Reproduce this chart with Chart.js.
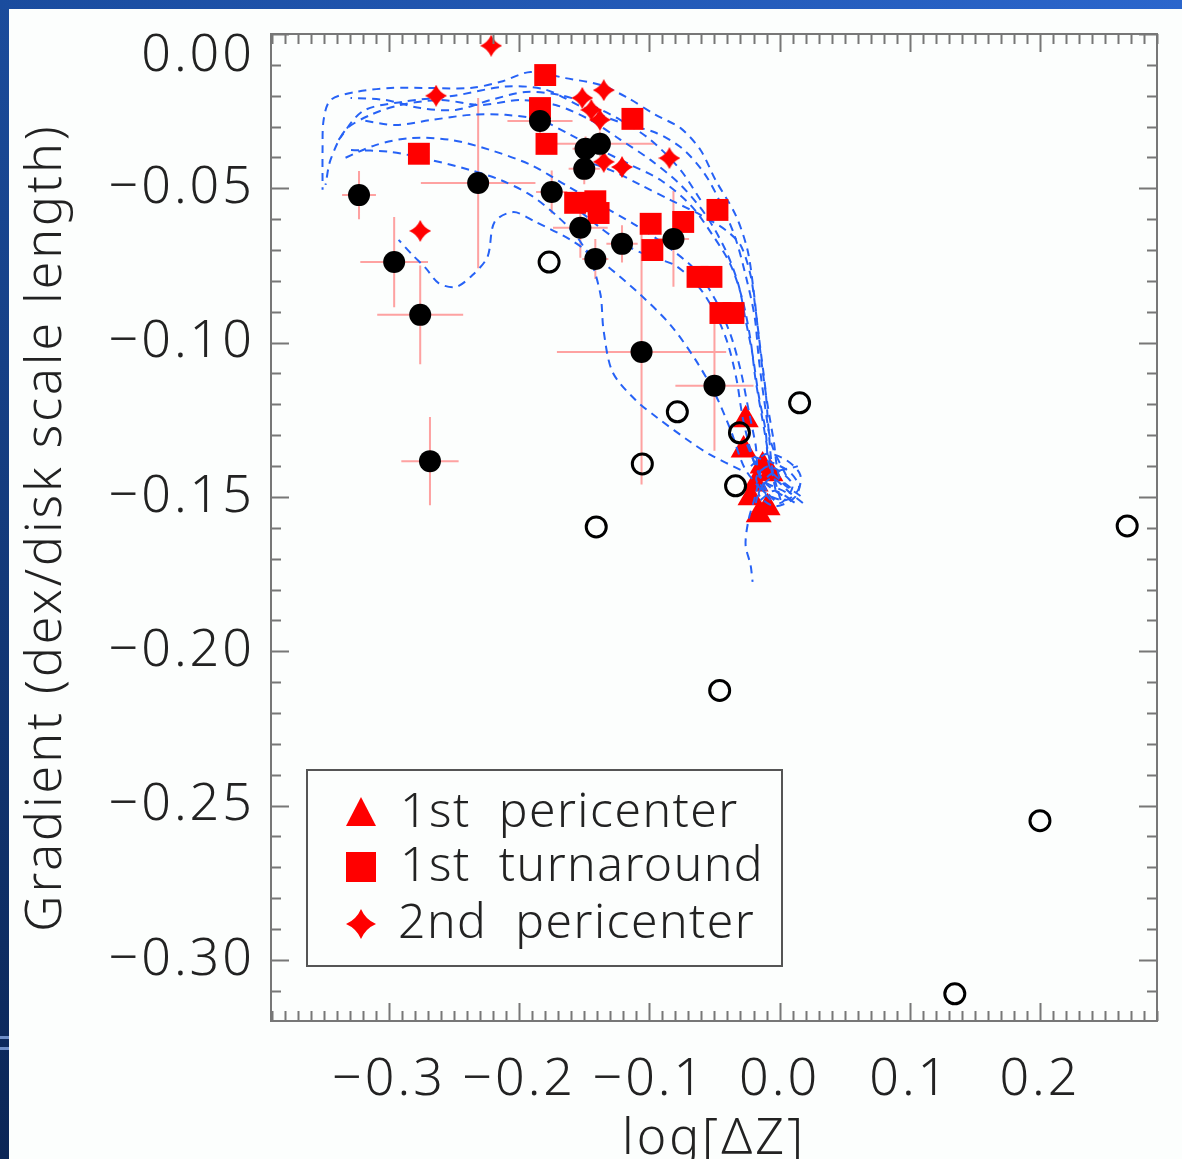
<!DOCTYPE html>
<html>
<head>
<meta charset="utf-8">
<script src="https://cdn.jsdelivr.net/npm/chart.js@4/dist/chart.umd.min.js"></script>
<style>
  body { margin: 0; width: 1182px; height: 1159px; overflow: hidden; position: relative;
         background: linear-gradient(to bottom, #1b4c9c, #0b2656); }
  #topbar { position: absolute; left: 0; top: 0; width: 1182px; height: 9px;
            background: linear-gradient(to right, #1a4c9e, #2b66cc); }
  #panel { position: absolute; left: 9px; top: 9px; width: 1173px; height: 1150px; background: #fcfefd; }
  .deco { position: absolute; left: 0; width: 9px; height: 3px; background: #6f8fc8; }
  #wrap { position: absolute; left: 0; top: -28px; width: 1182px; height: 1187px; }
</style>
</head>
<body>
<div id="topbar"></div>
<div id="panel"></div>
<div class="deco" style="top:1036px"></div>
<div class="deco" style="top:1047px"></div>
<div id="wrap"><canvas id="grafico" width="1182" height="1187"></canvas></div>
<script>
// eixos
const xTickValues = [-0.3, -0.2, -0.1, 0.0, 0.1, 0.2];
const xTickLabels = ['\u22120.3', '\u22120.2', '\u22120.1', '0.0', '0.1', '0.2'];
const yTickValues = [0.00, -0.05, -0.10, -0.15, -0.20, -0.25, -0.30];
const yTickLabels = ['0.00', '\u22120.05', '\u22120.10', '\u22120.15', '\u22120.20', '\u22120.25', '\u22120.30'];

// pontos pretos cheios com barras de erro
const blackX = [-0.323, -0.296, -0.276, -0.2685, -0.2315, -0.184, -0.175, -0.149, -0.138, -0.150, -0.153, -0.1415, -0.121, -0.0815, -0.106, -0.050];
const blackY = [-0.0522, -0.0739, -0.0910, -0.1384, -0.0483, -0.0282, -0.0512, -0.0372, -0.0356, -0.0437, -0.0628, -0.0729, -0.0680, -0.0664, -0.1030, -0.1140];
const blackXErr = [0.013, 0.026, 0.033, 0.022, 0.044, 0.025, 0.012, 0.010, 0.042, 0.012, 0.021, 0.010, 0.012, 0.012, 0.065, 0.030];
const blackYErr = [0.0078, 0.0146, 0.016, 0.0143, 0.0276, 0.004, 0.007, 0.004, 0.004, 0.005, 0.0097, 0.0065, 0.006, 0.0155, 0.043, 0.021];

// circulos abertos
const openX = [-0.177, -0.0785, -0.1054, 0.0154, -0.0308, -0.0338, -0.1408, -0.046, 0.267, 0.200, 0.1346];
const openY = [-0.0739, -0.1224, -0.1393, -0.1195, -0.1292, -0.1464, -0.1597, -0.2127, -0.1594, -0.2549, -0.311];

// 1st turnaround
const sqX = [-0.277, -0.180, -0.184, -0.179, -0.113, -0.157, -0.1415, -0.139, -0.099, -0.0977, -0.074, -0.0477, -0.063, -0.0523, -0.0454, -0.0354];
const sqY = [-0.0388, -0.0133, -0.0240, -0.0356, -0.0275, -0.0547, -0.0542, -0.0580, -0.0615, -0.0700, -0.0609, -0.0570, -0.0787, -0.0787, -0.0904, -0.0904];

// 2nd pericenter
const starX = [-0.2215, -0.2638, -0.276, -0.1515, -0.135, -0.1446, -0.138, -0.135, -0.121, -0.0846];
const starY = [-0.0038, -0.0200, -0.0638, -0.0207, -0.0182, -0.0246, -0.0278, -0.0414, -0.0431, -0.0402];

// 1st pericenter
const triX = [-0.026, -0.0276, -0.013, -0.007, -0.0223, -0.016, -0.0092, -0.0184];
const triY = [-0.125, -0.1348, -0.140, -0.1425, -0.1503, -0.1558, -0.1535, -0.1458];

// trajetorias (tracejado azul)
const trackA = [[0.0161,-0.1497],[0.0008,-0.1445],[-0.0046,-0.1315],[-0.0092,-0.1202],[-0.0131,-0.1088],[-0.0161,-0.0978],[-0.02,-0.0829],[-0.0246,-0.07],[-0.0338,-0.0586],[-0.0492,-0.0473],[-0.0607,-0.0376],[-0.076,-0.0305],[-0.0952,-0.0262],[-0.1167,-0.0207],[-0.1375,-0.0165],[-0.1644,-0.0143],[-0.1912,-0.0123],[-0.2143,-0.0155],[-0.2373,-0.0175],[-0.268,-0.0175],[-0.2988,-0.0175],[-0.3257,-0.0188],[-0.3449,-0.0214],[-0.3502,-0.0279],[-0.351,-0.0376],[-0.351,-0.0505]];
const trackB = [[0.0084,-0.147],[-0.0069,-0.1412],[-0.0108,-0.1283],[-0.0161,-0.1169],[-0.0207,-0.104],[-0.0261,-0.0926],[-0.0315,-0.0813],[-0.0415,-0.07],[-0.0568,-0.0586],[-0.076,-0.0489],[-0.0991,-0.0408],[-0.1221,-0.0343],[-0.1452,-0.0279],[-0.172,-0.023],[-0.1989,-0.0214],[-0.2296,-0.023],[-0.2604,-0.0214],[-0.2911,-0.023],[-0.3141,-0.0262],[-0.3333,-0.0311],[-0.3449,-0.0408],[-0.3487,-0.0489]];
const trackC = [[0.0046,-0.1484],[-0.0146,-0.1438],[-0.0184,-0.1331],[-0.0238,-0.1218],[-0.03,-0.1088],[-0.0376,-0.0975],[-0.0492,-0.0862],[-0.0645,-0.0765],[-0.0876,-0.0684],[-0.1106,-0.0619],[-0.1375,-0.0554],[-0.1644,-0.0489],[-0.1912,-0.0424],[-0.222,-0.0376],[-0.2527,-0.0343],[-0.2834,-0.0337],[-0.3103,-0.036],[-0.3372,-0.0408]];
const trackD = [[-0.0069,-0.151],[-0.0261,-0.1412],[-0.0376,-0.1283],[-0.0492,-0.1169],[-0.0645,-0.1056],[-0.0837,-0.0943],[-0.1068,-0.0845],[-0.1336,-0.0748],[-0.1605,-0.0667],[-0.1874,-0.0609],[-0.2043,-0.0577],[-0.2189,-0.0609],[-0.2243,-0.0722],[-0.2358,-0.0781],[-0.2488,-0.082],[-0.2619,-0.0807],[-0.2719,-0.0758],[-0.2819,-0.0716],[-0.2926,-0.0667]];
const trackE = [[-0.03,-0.1412],[-0.053,-0.1364],[-0.0684,-0.1322],[-0.0937,-0.1244],[-0.1106,-0.1186],[-0.1283,-0.1095],[-0.1352,-0.0959],[-0.1375,-0.0845],[-0.1452,-0.0732],[-0.1567,-0.0651],[-0.172,-0.0586],[-0.1912,-0.0522],[-0.2143,-0.0473],[-0.2373,-0.0441],[-0.268,-0.0408],[-0.2988,-0.0382],[-0.3295,-0.0376]];
const trackF = [[-0.0146,-0.1412],[-0.0184,-0.1493],[-0.0238,-0.1574],[-0.0261,-0.1655],[-0.0223,-0.172],[-0.0207,-0.1775]];
const trackG = [[-0.0031,-0.1477],[-0.0084,-0.1364],[-0.0131,-0.125],[-0.0184,-0.1121],[-0.0223,-0.0991],[-0.0284,-0.0862],[-0.0376,-0.0748],[-0.0515,-0.0651],[-0.0684,-0.0554],[-0.0914,-0.0473],[-0.1144,-0.0424],[-0.1375,-0.0376],[-0.1605,-0.0327],[-0.1836,-0.0279],[-0.2104,-0.0262],[-0.2373,-0.0262],[-0.268,-0.0279],[-0.2949,-0.0295],[-0.3218,-0.0279]];
const trackH = [[-0.0607,-0.0538],[-0.076,-0.0441],[-0.0991,-0.0343],[-0.1221,-0.0279],[-0.1452,-0.023],[-0.1682,-0.0198],[-0.1951,-0.0188],[-0.222,-0.0214],[-0.2488,-0.0246],[-0.2757,-0.024],[-0.3026,-0.0214],[-0.3295,-0.0207]];
const trackI = [[0.0008,-0.151],[-0.0054,-0.1412],[-0.0084,-0.1283],[-0.0108,-0.1153],[-0.0146,-0.1024],[-0.0184,-0.0894],[-0.0223,-0.0781],[-0.03,-0.0684],[-0.0415,-0.0635],[-0.0607,-0.0586],[-0.0837,-0.0538],[-0.1068,-0.0489],[-0.1298,-0.0441],[-0.1528,-0.0408]];
const trackJ = [[-0.02,-0.137],[-0.005,-0.139],[0.008,-0.142],[0.015,-0.147],[0.005,-0.151],[-0.01,-0.149],[-0.018,-0.144],[-0.008,-0.14],[0.01,-0.146],[0.0,-0.152],[-0.015,-0.146]];
const trackK = [[-0.025,-0.133],[-0.012,-0.145],[0.012,-0.152],[-0.004,-0.148],[-0.018,-0.152],[-0.008,-0.143],[0.014,-0.14]];
const trackL = [[0.005,-0.143],[-0.006,-0.133],[-0.012,-0.118],[-0.016,-0.105],[-0.019,-0.092],[-0.025,-0.08],[-0.034,-0.066],[-0.045,-0.055],[-0.058,-0.045],[-0.075,-0.037],[-0.095,-0.032],[-0.12,-0.029],[-0.15,-0.024],[-0.18,-0.018],[-0.21,-0.017],[-0.25,-0.02],[-0.29,-0.022],[-0.32,-0.025],[-0.34,-0.035]];
const trackM = [[-0.01,-0.148],[-0.02,-0.138],[-0.028,-0.125],[-0.033,-0.112],[-0.04,-0.1],[-0.05,-0.09],[-0.062,-0.082],[-0.08,-0.075],[-0.1,-0.072],[-0.12,-0.068],[-0.14,-0.062],[-0.16,-0.055]];
const trackN = [[-0.022,-0.14],[-0.01,-0.136],[0.005,-0.138],[0.016,-0.143],[0.012,-0.15],[-0.004,-0.153],[-0.016,-0.149],[-0.006,-0.144],[0.009,-0.149],[0.018,-0.152]];
const tracks = [trackA, trackB, trackC, trackD, trackE, trackF, trackG, trackH, trackI, trackJ, trackK, trackL, trackM, trackN];

const fonte = "'Noto Sans', 'DejaVu Sans', sans-serif";
const azul = 'rgb(38, 98, 246)';
const vermelho = '#ff0000';

function pontos(xs, ys) {
  return xs.map((x, i) => ({ x: x, y: ys[i] }));
}

function estrela(tam) {
  const c = document.createElement('canvas');
  c.width = tam; c.height = tam;
  const g = c.getContext('2d');
  const r = tam / 2, k = r * 0.3;
  g.fillStyle = vermelho;
  g.beginPath();
  g.moveTo(r, 0);
  g.quadraticCurveTo(r + k, r - k, tam, r);
  g.quadraticCurveTo(r + k, r + k, r, tam);
  g.quadraticCurveTo(r - k, r + k, 0, r);
  g.quadraticCurveTo(r - k, r - k, r, 0);
  g.fill();
  return c;
}

// barras de erro: segmentos separados por null
const erros = [];
blackX.forEach((x, i) => {
  const y = blackY[i];
  erros.push({ x: x - blackXErr[i], y: y }, { x: x + blackXErr[i], y: y }, { x: x, y: null });
  erros.push({ x: x, y: y - blackYErr[i] }, { x: x, y: y + blackYErr[i] }, { x: x, y: null });
});

const datasets = [];
datasets.push({ label: 'open', data: pontos(openX, openY), pointStyle: 'circle', pointRadius: 10,
  backgroundColor: 'rgba(0,0,0,0)', borderColor: '#000', pointBorderWidth: 3 });
datasets.push({ label: 'filled', data: pontos(blackX, blackY), pointStyle: 'circle', pointRadius: 11,
  backgroundColor: '#000', borderColor: '#000', pointBorderWidth: 0 });
datasets.push({ label: '2nd pericenter', data: pontos(starX, starY), pointStyle: estrela(22), pointRadius: 11 });
datasets.push({ label: '1st turnaround', data: pontos(sqX, sqY), pointStyle: 'rect', pointRadius: 15.5,
  backgroundColor: vermelho, borderColor: vermelho, pointBorderWidth: 0 });
tracks.forEach((t, i) => {
  datasets.push({ label: 'track' + i, data: t.map(p => ({ x: p[0], y: p[1] })), showLine: true,
    pointRadius: 0, borderColor: azul, borderWidth: 2, borderDash: [8, 6], tension: 0.3, fill: false });
});
datasets.push({ label: '1st pericenter', data: pontos(triX, triY), pointStyle: 'triangle', pointRadius: 15,
  backgroundColor: vermelho, borderColor: vermelho, pointBorderWidth: 0 });
datasets.push({ label: 'errors', data: erros, showLine: true, spanGaps: false, pointRadius: 0,
  borderColor: 'rgba(255, 70, 70, 0.5)', borderWidth: 2 });

// espacamento das letras (estilo da fonte original)
const espaco = {
  id: 'espaco',
  beforeDraw(chart) { chart.ctx.letterSpacing = '3px'; },
  beforeDatasetsDraw(chart) { chart.ctx.letterSpacing = '0px'; }
};

// moldura e marcas internas
const moldura = {
  id: 'moldura',
  afterDatasetsDraw(chart) {
    const { ctx, chartArea: a, scales: { x, y } } = chart;
    ctx.save();
    ctx.strokeStyle = '#777';
    ctx.lineWidth = 2;
    ctx.strokeRect(a.left, a.top, a.right - a.left, a.bottom - a.top);
    ctx.beginPath();
    for (let i = -39; i <= 29; i++) {
      const px = Math.round(x.getPixelForValue(i / 100)) + 0.5;
      const len = i % 10 === 0 ? 18 : 10;
      ctx.moveTo(px, a.bottom); ctx.lineTo(px, a.bottom - len);
      ctx.moveTo(px, a.top); ctx.lineTo(px, a.top + len);
    }
    for (let i = 0; i >= -31; i--) {
      const py = Math.round(y.getPixelForValue(i / 100)) + 0.5;
      const len = i % 5 === 0 ? 18 : 10;
      ctx.moveTo(a.left, py); ctx.lineTo(a.left + len, py);
      ctx.moveTo(a.right, py); ctx.lineTo(a.right - len, py);
    }
    ctx.stroke();
    ctx.restore();
  }
};

// legenda dentro do grafico
const legenda = {
  id: 'legenda',
  afterDraw(chart) {
    const { ctx, chartArea: a } = chart;
    const bx = a.left + 36, by = a.top + 736, bw = 475, bh = 196;
    ctx.save();
    ctx.strokeStyle = '#555';
    ctx.lineWidth = 2;
    ctx.strokeRect(bx, by, bw, bh);
    const sx = bx + 54;
    const rows = [by + 43, by + 97, by + 154];
    ctx.fillStyle = vermelho;
    // triangulo
    ctx.beginPath();
    ctx.moveTo(sx, rows[0] - 16);
    ctx.lineTo(sx + 15, rows[0] + 13);
    ctx.lineTo(sx - 15, rows[0] + 13);
    ctx.closePath();
    ctx.fill();
    // quadrado
    ctx.fillRect(sx - 15, rows[1] - 15, 30, 30);
    // estrela
    ctx.drawImage(estrela(30), sx - 15, rows[2] - 15);
    ctx.fillStyle = '#222';
    ctx.font = '300 48px ' + fonte;
    ctx.letterSpacing = '1.5px';
    ctx.textBaseline = 'middle';
    ctx.textAlign = 'left';
    ctx.fillText('1st  pericenter', bx + 93, rows[0]);
    ctx.fillText('1st  turnaround', bx + 93, rows[1]);
    ctx.fillText('2nd  pericenter', bx + 91, rows[2]);
    ctx.restore();
  }
};

new Chart(document.getElementById('grafico'), {
  type: 'scatter',
  data: { datasets: datasets },
  options: {
    responsive: false,
    animation: false,
    layout: { padding: { top: 62, right: 25, left: 0, bottom: 0 } },
    plugins: { legend: { display: false }, tooltip: { enabled: false } },
    scales: {
      x: {
        type: 'linear', min: -0.3906, max: 0.2899,
        grid: { display: false, drawTicks: false }, border: { display: false },
        afterBuildTicks: s => { s.ticks = xTickValues.map(v => ({ value: v })); },
        afterFit: s => { s.height = 138; },
        ticks: { autoSkip: false, maxRotation: 0, padding: 33, color: '#222',
          font: { family: fonte, size: 52, weight: 300, lineHeight: 1 },
          callback: (v, i) => xTickLabels[i] },
        title: { display: true, text: 'log[\u0394Z]', color: '#222', padding: { bottom: -6 },
          font: { family: fonte, size: 50, weight: 300, lineHeight: 1 } }
      },
      y: {
        type: 'linear', min: -0.3198, max: 0,
        grid: { display: false, drawTicks: false }, border: { display: false },
        afterBuildTicks: s => { s.ticks = yTickValues.map(v => ({ value: v })); },
        afterFit: s => { s.width = 271; },
        ticks: { autoSkip: false, padding: 16, color: '#222',
          font: { family: fonte, size: 52, weight: 300, lineHeight: 0.85 },
          callback: (v, i) => (i === 0 ? ['', yTickLabels[i]] : yTickLabels[i]) },
        title: { display: true, text: 'Gradient (dex/disk scale length)', color: '#222', padding: { top: 17 },
          font: { family: fonte, size: 50, weight: 300, lineHeight: 1.2 } }
      }
    }
  },
  plugins: [espaco, moldura, legenda]
});
</script>
</body>
</html>
